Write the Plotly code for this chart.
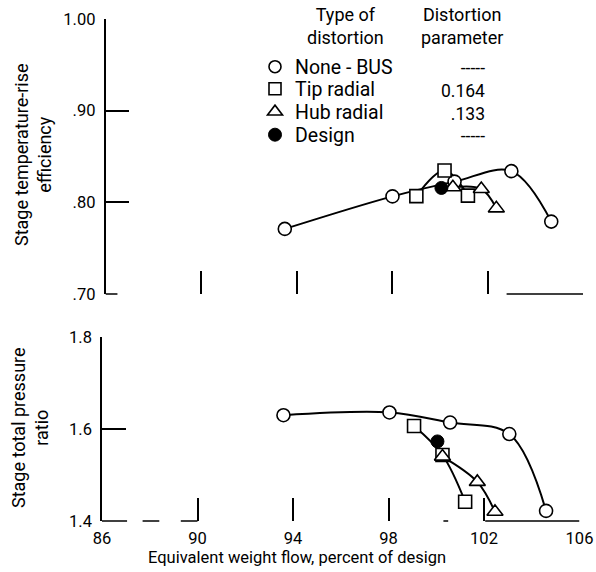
import plotly.graph_objects as go

# ---- data: equivalent weight flow (percent of design) vs stage performance ----
# Stage temperature-rise efficiency
flow_bus_eff = [93.51, 98.02, 100.62, 103.0, 104.67]
eff_bus = [0.771, 0.8065, 0.8226, 0.834, 0.779]
flow_tip_eff = [99.02, 100.2, 101.18]
eff_tip = [0.8068, 0.8347, 0.8073]
flow_hub_eff = [100.55, 101.74, 102.37]
eff_hub = [0.8164, 0.8146, 0.7934]
flow_design_eff = [100.07]
eff_design = [0.8157]

# Stage total pressure ratio
flow_bus_pr = [93.6, 98.04, 100.58, 103.06, 104.6]
pr_bus = [1.630, 1.636, 1.614, 1.589, 1.422]
flow_tip_pr = [99.07, 100.26, 101.21]
pr_tip = [1.6065, 1.5435, 1.442]
flow_hub_pr = [100.26, 101.72, 102.46]
pr_hub = [1.540, 1.485, 1.420]
flow_design_pr = [100.05]
pr_design = [1.573]

# Axis ticks and labels
flow_ticks = [86, 90, 94, 98, 102, 106]
flow_labels = ["86", "90", "94", "98", "102", "106"]
eff_ticks = [0.70, 0.80, 0.90, 1.00]
eff_labels = [".70", ".80", ".90", "1.00"]
pr_ticks = [1.4, 1.6, 1.8]
pr_labels = ["1.4", "1.6", "1.8"]

# Legend table
series_names = ["None - BUS", "Tip radial", "Hub radial", "Design"]
distortion_params = ["-----", "0.164", ".133", "-----"]

# Visible pieces of each panel's bottom rule (flow units)
eff_rule_pieces = [(86.0, 86.5), (102.8, 106.0)]
pr_rule_pieces = [(86.0, 87.05), (87.7, 88.4), (89.3, 90.0), (100.3, 100.5), (102.05, 106.0)]

FONT = "Roboto, Liberation Sans, sans-serif"
INK = "black"

W, H = 596, 572
L, R, T, B = 102, 583, 19, 521


def xp(px):
    return (px - L) / (R - L)


def yp(py):
    return (B - py) / (B - T)


fig = go.Figure()

symbols = {"bus": "circle", "tip": "square", "hub": "triangle-up"}
sizes = {"bus": 13, "tip": 13, "hub": 14}


def add_curve(x, y, xa, ya):
    fig.add_trace(go.Scatter(
        x=x, y=y, mode="lines", xaxis=xa, yaxis=ya, showlegend=False,
        line=dict(color=INK, width=2, shape="spline", smoothing=1.0),
        hoverinfo="skip"))


def add_points(x, y, key, xa, ya):
    fig.add_trace(go.Scatter(
        x=x, y=y, mode="markers", xaxis=xa, yaxis=ya, showlegend=False,
        marker=dict(symbol=symbols[key], size=sizes[key], color="white",
                    line=dict(color=INK, width=1.6))))


panels = [
    ("x", "y", flow_bus_eff, eff_bus, flow_tip_eff, eff_tip, flow_hub_eff, eff_hub,
     flow_design_eff, eff_design),
    ("x2", "y2", flow_bus_pr, pr_bus, flow_tip_pr, pr_tip, flow_hub_pr, pr_hub,
     flow_design_pr, pr_design),
]

for xa, ya, xb, yb, xt, yt, xh, yh, xd, yd in panels:
    add_curve(xb, yb, xa, ya)
    add_curve(xt, yt, xa, ya)
    add_curve(xh, yh, xa, ya)
    add_points(xb, yb, "bus", xa, ya)
    add_points(xt, yt, "tip", xa, ya)
    add_points(xh, yh, "hub", xa, ya)
    fig.add_trace(go.Scatter(
        x=xd, y=yd, mode="markers", xaxis=xa, yaxis=ya, showlegend=False,
        marker=dict(symbol="circle", size=13, color=INK, line=dict(color=INK, width=1))))

# one legend per row so each key row sits on its own line of the table
legend_markers = [
    dict(symbol="circle", size=12, color="white", line=dict(color=INK, width=1.6)),
    dict(symbol="square", size=12, color="white", line=dict(color=INK, width=1.6)),
    dict(symbol="triangle-up", size=13, color="white", line=dict(color=INK, width=1.6)),
    dict(symbol="circle", size=13, color=INK, line=dict(color=INK, width=1)),
]
legend_ids = ["legend", "legend2", "legend3", "legend4"]
legend_rows_y = [67, 89, 112, 135]
for name, mk, lid in zip(series_names, legend_markers, legend_ids):
    fig.add_trace(go.Scatter(x=[None], y=[None], mode="markers", name=name,
                             marker=mk, showlegend=True, legend=lid))

legend_layout = {}
for lid, ry in zip(legend_ids, legend_rows_y):
    legend_layout[lid] = dict(
        x=xp(255), y=yp(ry), xanchor="left", yanchor="middle",
        bgcolor="rgba(0,0,0,0)", borderwidth=0,
        font=dict(family=FONT, size=19.5, color=INK), itemsizing="trace")

# bottom rules
shapes = []
for a, b in eff_rule_pieces:
    shapes.append(dict(type="line", xref="x", yref="y domain", x0=a, x1=b, y0=0, y1=0,
                       line=dict(color=INK, width=1.5)))
for a, b in pr_rule_pieces:
    shapes.append(dict(type="line", xref="x2", yref="y2 domain", x0=a, x1=b, y0=0, y1=0,
                       line=dict(color=INK, width=1.5)))

tickfont = dict(family=FONT, size=16.5, color=INK)

axis_common = dict(showgrid=False, zeroline=False, ticks="inside", tickcolor=INK,
                   tickwidth=1.5, linecolor=INK, linewidth=1.5, tickfont=tickfont,
                   automargin=False)

annotations = []


def label(text, x, y, size=18, **kw):
    d = dict(text=text, x=xp(x), y=yp(y), xref="paper", yref="paper", showarrow=False,
             xanchor="center", yanchor="middle",
             font=dict(family=FONT, size=size, color=INK))
    d.update(kw)
    annotations.append(d)


label("Type of<br>distortion", 345, 26)
label("Distortion<br>parameter", 462, 26)
# parameter column as one right-aligned block
label("<br>".join(distortion_params), 487, 102.5, size=17.5, xanchor="right", align="right")
label("Stage temperature-rise<br>efficiency", 33, 155, textangle=-90)
label("Stage total pressure<br>ratio", 30, 428, textangle=-90)
label("Equivalent weight flow, percent of design", 297, 557, size=16.5)

fig.update_layout(
    width=W, height=H,
    margin=dict(l=L, r=W - R, t=T, b=H - B, autoexpand=False),
    paper_bgcolor="white", plot_bgcolor="white",
    font=dict(family=FONT, size=18, color=INK),
    xaxis=dict(axis_common, domain=[3.5 / 481, 1], range=[86, 106], tickvals=flow_ticks,
               showticklabels=False, ticklen=23, showline=False, anchor="y"),
    yaxis=dict(axis_common, domain=[yp(294), 1], range=[0.70, 1.00], tickvals=eff_ticks,
               ticktext=eff_labels, ticklen=24, showline=True, anchor="x",
               ticklabelstandoff=5),
    xaxis2=dict(axis_common, domain=[0, 477.5 / 481], range=[86, 106], tickvals=flow_ticks,
                ticktext=flow_labels, ticklen=23, showline=False, anchor="y2",
                ticklabelstandoff=5),
    yaxis2=dict(axis_common, domain=[0, yp(337)], range=[1.4, 1.8], tickvals=pr_ticks,
                ticktext=pr_labels, ticklen=24, showline=True, anchor="x2",
                ticklabelstandoff=5),
    shapes=shapes,
    annotations=annotations,
    **legend_layout,
)

fig.write_html("out.html")
